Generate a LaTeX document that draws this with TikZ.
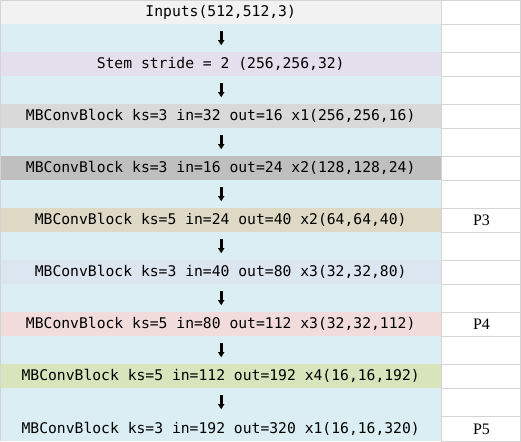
\documentclass[tikz,border=0pt]{standalone}
\usepackage{fontspec}
\usetikzlibrary{arrows.meta}
\newfontfamily\cellfont{DejaVu Sans Mono}
\newfontfamily\markfont{Liberation Serif}
\definecolor{inputgrey}{HTML}{F2F2F2}
\definecolor{gapblue}{HTML}{DAEEF3}
\definecolor{stemlilac}{HTML}{E4DFEC}
\definecolor{blockgrey}{HTML}{D9D9D9}
\definecolor{blockdark}{HTML}{BFBFBF}
\definecolor{blocktan}{HTML}{DDD9C4}
\definecolor{blockblue}{HTML}{DCE6F1}
\definecolor{blockrose}{HTML}{F2DCDB}
\definecolor{blockolive}{HTML}{D8E4BC}
\definecolor{gridgrey}{HTML}{D4D4D4}

\begin{document}
\begin{tikzpicture}[x=1pt,y=-1pt,
  cell/.style={anchor=north west,inner sep=0pt,minimum width=441pt,minimum height=24pt,
    font=\cellfont\fontsize{14.7}{16}\selectfont},
  gap/.style={cell,minimum height=28pt,fill=gapblue},
  side/.style={anchor=north west,inner sep=0pt,minimum width=80pt,minimum height=24pt,
    draw=gridgrey,line width=1pt,font=\markfont\fontsize{16}{18}\selectfont},
  flowarrow/.style={line width=3pt,-{Triangle[width=6pt,length=5pt]}}]
\useasboundingbox (0,0) rectangle (521,441);
\node[cell,fill=inputgrey] (inp) at (0,0) {Inputs(512,512,3)};
\node[gap] (g1) at (0,24) {};
\node[cell,fill=stemlilac] (stem) at (0,52) {Stem stride = 2 (256,256,32)};
\node[gap] (g2) at (0,76) {};
\node[cell,fill=blockgrey] (mb1) at (0,104) {MBConvBlock ks=3 in=32 out=16 x1(256,256,16)};
\node[gap] (g3) at (0,128) {};
\node[cell,fill=blockdark] (mb2) at (0,156) {MBConvBlock ks=3 in=16 out=24 x2(128,128,24)};
\node[gap] (g4) at (0,180) {};
\node[cell,fill=blocktan] (mb3) at (0,208) {MBConvBlock ks=5 in=24 out=40 x2(64,64,40)};
\node[gap] (g5) at (0,232) {};
\node[cell,fill=blockblue] (mb4) at (0,260) {MBConvBlock ks=3 in=40 out=80 x3(32,32,80)};
\node[gap] (g6) at (0,284) {};
\node[cell,fill=blockrose] (mb5) at (0,312) {MBConvBlock ks=5 in=80 out=112 x3(32,32,112)};
\node[gap] (g7) at (0,336) {};
\node[cell,fill=blockolive] (mb6) at (0,364) {MBConvBlock ks=5 in=112 out=192 x4(16,16,192)};
\node[gap] (g8) at (0,388) {};
\node[cell,fill=gapblue,minimum height=25pt] (mb7) at (0,416) {MBConvBlock ks=3 in=192 out=320 x1(16,16,320)};
\node[side] (s1) at (441,0) {};
\node[side,minimum height=28pt] (s2) at (441,24) {};
\node[side] (s3) at (441,52) {};
\node[side,minimum height=28pt] (s4) at (441,76) {};
\node[side] (s5) at (441,104) {};
\node[side,minimum height=28pt] (s6) at (441,128) {};
\node[side] (s7) at (441,156) {};
\node[side,minimum height=28pt] (s8) at (441,180) {};
\node[side] (p3) at (441,208) {P3};
\node[side,minimum height=28pt] (s10) at (441,232) {};
\node[side] (s11) at (441,260) {};
\node[side,minimum height=28pt] (s12) at (441,284) {};
\node[side] (p4) at (441,312) {P4};
\node[side,minimum height=28pt] (s14) at (441,336) {};
\node[side] (s15) at (441,364) {};
\node[side,minimum height=28pt] (s16) at (441,388) {};
\node[side,minimum height=25pt] (p5) at (441,416) {P5};
\foreach \g in {g1,g2,g3,g4,g5,g6,g7,g8}
  \draw[flowarrow] ([xshift=0.5pt,yshift=7pt]\g.center) -- ([xshift=0.5pt,yshift=-7pt]\g.center);
\draw[gridgrey,line width=1pt] (0.5,441) -- (0.5,0.5) -- (520.5,0.5) -- (520.5,441);
\end{tikzpicture}
\end{document}
